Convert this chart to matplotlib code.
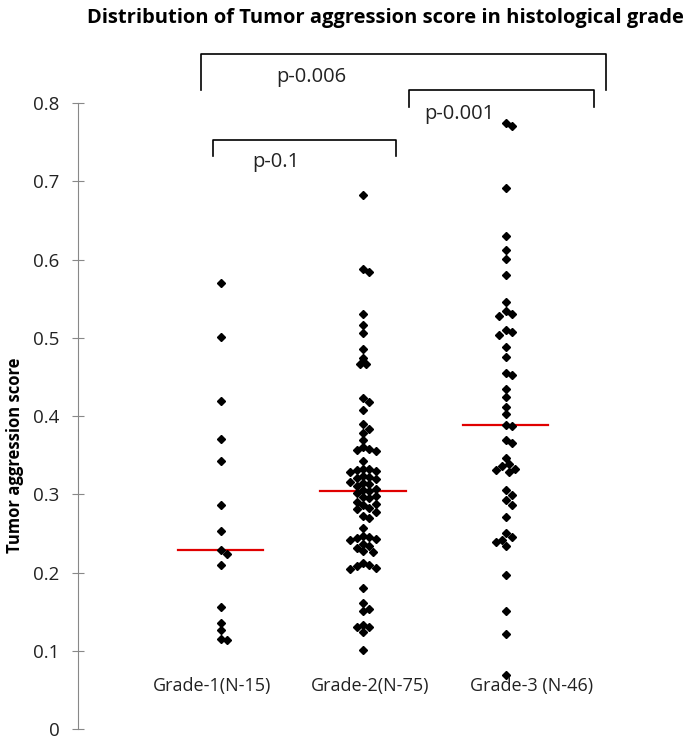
import numpy as np
import matplotlib
matplotlib.use("Agg")
from matplotlib import pyplot as plt

plt.rcParams['font.family'] = ['Open Sans', 'DejaVu Sans']

# group labels and scores
groups = ['Grade-1(N-15)', 'Grade-2(N-75)', 'Grade-3 (N-46)']

grade1 = [0.570, 0.501, 0.419, 0.371, 0.342, 0.286, 0.253, 0.229, 0.224, 0.210,
          0.156, 0.136, 0.127, 0.115, 0.114]

grade2 = [0.683, 0.588, 0.584, 0.530, 0.517, 0.506, 0.486, 0.474, 0.466, 0.466,
          0.423, 0.418, 0.408, 0.390, 0.383, 0.378, 0.369,
          0.360, 0.358, 0.357, 0.355, 0.342,
          0.333, 0.332, 0.331, 0.330, 0.329,
          0.324, 0.322, 0.321, 0.319,
          0.316, 0.314, 0.313, 0.311,
          0.307, 0.305, 0.304, 0.302,
          0.298, 0.296, 0.295, 0.290, 0.288, 0.286,
          0.283, 0.281, 0.278, 0.272, 0.270, 0.257,
          0.247, 0.245, 0.244, 0.243, 0.241,
          0.236, 0.234, 0.232, 0.227, 0.226,
          0.212, 0.210, 0.208, 0.206, 0.204,
          0.180, 0.161, 0.154, 0.151,
          0.133, 0.131, 0.130, 0.124, 0.101]

grade3 = [0.775, 0.771, 0.692, 0.630, 0.612, 0.601, 0.581, 0.546, 0.535, 0.530,
          0.528, 0.510, 0.507, 0.504, 0.488, 0.476, 0.455, 0.452, 0.435, 0.424,
          0.412, 0.403, 0.389, 0.387, 0.369, 0.366, 0.347, 0.339, 0.336, 0.333,
          0.331, 0.329, 0.305, 0.299, 0.293, 0.286, 0.271, 0.250, 0.245, 0.242,
          0.239, 0.234, 0.197, 0.151, 0.121, 0.069]

# significance brackets: (left group, right group, p text)
pairs = [(1, 2, 'p-0.1'), (2, 3, 'p-0.001'), (1, 3, 'p-0.006')]

fig = plt.figure(figsize=(6.89, 7.44), dpi=100)
ax = fig.add_axes([78 / 689, 15 / 744, 570 / 689, 704 / 744])
ax.set_xlim(0, 4)
ax.set_ylim(0, 0.9)

# pixels per data unit, used for the swarm layout
p0 = ax.transData.transform((0, 0))
p1 = ax.transData.transform((1, 1))
xpx, ypx = p1[0] - p0[0], p1[1] - p0[1]


def swarm(vals, center, d=6.4, step=3.2):
    placed = []
    xs = np.zeros(len(vals))
    for i in np.argsort(vals)[::-1]:
        y = vals[i] * ypx
        cands = [0.0]
        for j in range(1, 20):
            cands += [j * step, -j * step]
        for c in cands:
            if all((c - a) ** 2 + (y - b) ** 2 >= d * d for a, b in placed):
                break
        placed.append((c, y))
        xs[i] = center + c / xpx
    return xs


for k, vals in enumerate([grade1, grade2, grade3]):
    vals = np.array(vals)
    pos = k + 1
    med = np.median(vals)
    ax.plot([pos - 0.3, pos + 0.3], [med, med], color='#e00000', lw=1.6, zorder=2)
    ax.plot(swarm(vals, pos), vals, 'D', color='black', ms=4.0, mec='black', zorder=3)

label_x = [0.94, 2.05, 3.18]
for x, g in zip(label_x, groups):
    ax.text(x, 0.055, g, ha='center', va='center', fontsize=13, color='#222222')

# brackets
bracket_y = {'p-0.1': (0.753, 0.732), 'p-0.001': (0.817, 0.795), 'p-0.006': (0.863, 0.817)}
bracket_x = {'p-0.1': (0.947, 2.235), 'p-0.001': (2.323, 3.621), 'p-0.006': (0.863, 3.705)}
text_pos = {'p-0.1': (1.386, 0.725), 'p-0.001': (2.677, 0.786), 'p-0.006': (1.639, 0.834)}
for a, b, t in pairs:
    x0, x1 = bracket_x[t]
    top, end = bracket_y[t]
    ax.plot([x0, x0, x1, x1], [end, top, top, end], color='black', lw=1.2,
            solid_joinstyle='round', clip_on=False)
    ax.text(text_pos[t][0], text_pos[t][1], t, ha='center', va='center',
            fontsize=14.5, color='#222222')

for s in ['top', 'right', 'bottom']:
    ax.spines[s].set_visible(False)
ax.spines['left'].set_bounds(0, 0.8)
ax.spines['left'].set_color('#888888')
ax.set_xticks([])
ax.set_yticks(np.arange(0, 0.81, 0.1))
ax.set_yticklabels(['0', '0.1', '0.2', '0.3', '0.4', '0.5', '0.6', '0.7', '0.8'])
ax.tick_params(axis='y', direction='inout', length=9, color='#888888',
               labelsize=13.5, labelcolor='#222222', pad=9)

ax.set_ylabel('Tumor aggression score', fontsize=12, fontweight='bold')
ax.yaxis.set_label_coords(-0.095, 0.389)
fig.text(385 / 689, 1 - 18 / 744, 'Distribution of Tumor aggression score in histological grade',
         ha='center', va='center', fontsize=14.5, fontweight='bold')

fig.savefig('out.png', dpi=100)
